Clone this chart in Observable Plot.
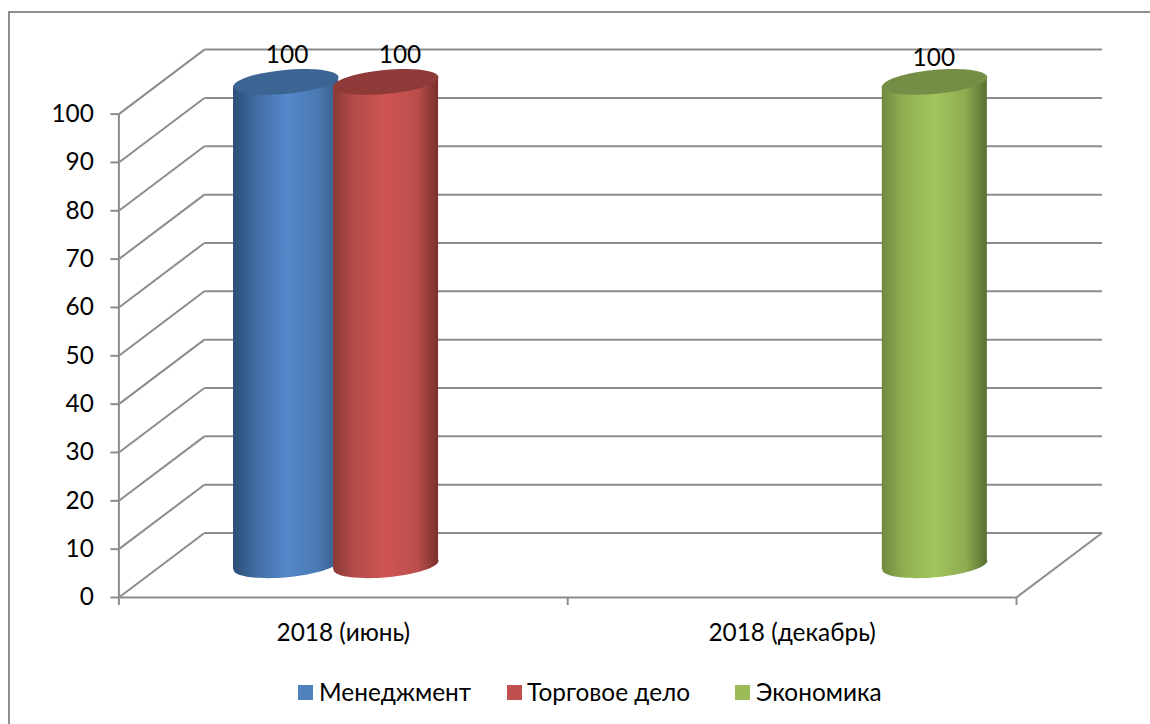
<!DOCTYPE html>
<html><head><meta charset="utf-8">
<script src="https://cdn.jsdelivr.net/npm/d3@7"></script>
<script src="https://cdn.jsdelivr.net/npm/@observablehq/plot@0.6"></script>
<style>
html,body{margin:0;padding:0;background:#fff;overflow:hidden;width:1150px;height:724px}
#frame{position:absolute;left:8px;top:11px;width:2000px;height:2000px;border:2px solid #8f8f8f;box-sizing:border-box}
#chart{position:absolute;left:0;top:0}
#legend{position:absolute;left:0;top:665px;width:1150px;height:55px;font-family:Lato,"Open Sans",sans-serif;font-size:24.4px;color:#000}
#legend span{position:absolute;top:12px;white-space:nowrap}
#legend i{position:absolute;top:20px;width:15px;height:15px}
svg text{font-family:Lato,"Open Sans",sans-serif}
</style></head><body>
<div id="frame"></div><div id="chart"></div><div id="legend"></div>
<script>
// Data
const categories = ["2018 (июнь)", "2018 (декабрь)"];
const series = ["Менеджмент", "Торговое дело", "Экономика"];
const management = [100, null];
const trade = [100, null];
const economics = [null, 100];
const valueTicks = [0,10,20,30,40,50,60,70,80,90,100];

// Styles
const seriesValues = [management, trade, economics];
const legendColors = ["#4f81bd","#c0504d","#9bbb59"];
const topColors = ["#3c6594","#8e3a38","#748e45"];
const gradients = [
  ["#2b4d78","#3f6b9e","#5588cb","#4a79b4","#356089"],
  ["#8a3a38","#b44c4a","#cf5452","#b94e4c","#7a2f2d"],
  ["#6f8a40","#8fae52","#a3c65e","#8dab50","#586f30"]
];
const grid = "#8c8c8c";
const textSize = 24.4;
// 3D projection, in data units
const depthX = 0.1905, depthY = 13.34, step = 0.2228, half = 0.117, tilt = 0.93;
const labelDx = [1, 14, -1], labelDy = [-27, -27, -24];

const rows = series.flatMap((s,si)=>seriesValues[si].map((v,ci)=>({series:s,si,ci,v,
  cx: ci + 0.5 + (si-1)*step + depthX/2, base: depthY/2, top: v + depthY/2})).filter(d=>d.v!=null));

// tilted ellipse symbol
const ellipse = {draw(ctx,size){
  const a = Math.sqrt(size/Math.PI), b = a*0.2277, th = -5.2*Math.PI/180, k = 0.5523;
  const P=(u,v)=>[u*Math.cos(th)-v*Math.sin(th), u*Math.sin(th)+v*Math.cos(th)];
  ctx.moveTo(...P(a,0));
  ctx.bezierCurveTo(...P(a,k*b),...P(k*a,b),...P(0,b));
  ctx.bezierCurveTo(...P(-k*a,b),...P(-a,k*b),...P(-a,0));
  ctx.bezierCurveTo(...P(-a,-k*b),...P(-k*a,-b),...P(0,-b));
  ctx.bezierCurveTo(...P(k*a,-b),...P(a,-k*b),...P(a,0));
  ctx.closePath();
}};

const defs = () => {
  const d = d3.create("svg:defs");
  gradients.forEach((g,i)=>{
    const lg = d.append("linearGradient").attr("id","cyl"+i).attr("x1",0).attr("x2",1).attr("y1",0).attr("y2",0);
    [0,0.2,0.5,0.8,1].forEach((o,j)=>lg.append("stop").attr("offset",o).attr("stop-color",g[j]));
  });
  return d.node();
};

const cylinders = rows.flatMap(r=>{
  const pts = [
    {x:r.cx-half, y1:r.base-tilt, y2:r.top-tilt},
    {x:r.cx+half, y1:r.base+tilt, y2:r.top+tilt}
  ];
  return [
    Plot.dot([r],{x:"cx",y:"base",r:52.7,symbol:ellipse,fill:`url(#cyl${r.si})`,stroke:"none"}),
    Plot.areaY(pts,{x:"x",y1:"y1",y2:"y2",fill:`url(#cyl${r.si})`}),
    Plot.dot([r],{x:"cx",y:"top",r:52.7,symbol:ellipse,fill:topColors[r.si],stroke:"none"}),
    Plot.text([r],{x:"cx",y:"top",text:d=>String(d.v),dx:labelDx[r.si],dy:labelDy[r.si],fontSize:textSize,fill:"#000"})
  ];
});

const plot = Plot.plot({
  width:1150, height:665,
  marginLeft:118.4, marginRight:134, marginTop:113.6, marginBottom:68,
  style:{background:"transparent",fontFamily:'Lato,"Open Sans",sans-serif'},
  x:{type:"linear",domain:[0,2],axis:null},
  y:{type:"linear",domain:[0,100],axis:null},
  marks:[
    defs,
    // back wall
    Plot.link(valueTicks,{x1:depthX,x2:2+depthX,y1:d=>d+depthY,y2:d=>d+depthY,stroke:grid,strokeWidth:2}),
    // left wall
    Plot.link(valueTicks,{x1:0,x2:depthX,y1:d=>d,y2:d=>d+depthY,stroke:grid,strokeWidth:2}),
    // floor right edge
    Plot.link([0],{x1:2,x2:2+depthX,y1:0,y2:depthY,stroke:grid,strokeWidth:2}),
    // axis lines
    Plot.ruleY([0],{x1:0,x2:2,stroke:grid,strokeWidth:2}),
    Plot.ruleX([0],{y1:0,y2:100,stroke:grid,strokeWidth:2}),
    Plot.axisY(valueTicks,{anchor:"left",label:null,tickSize:8,tickPadding:17,stroke:grid,strokeWidth:2,fill:"#000",fontSize:textSize,tickFormat:d=>String(d)}),
    Plot.axisX([0,1,2],{anchor:"bottom",label:null,tickSize:8,stroke:grid,strokeWidth:2,tickFormat:()=>""}),
    Plot.axisX([0.5,1.5],{anchor:"bottom",label:null,tickSize:0,tickPadding:26,fill:"#000",fontSize:textSize,tickFormat:d=>categories[d-0.5]}),
    ...cylinders
  ]
});
document.getElementById("chart").append(plot);

const legendX = [[298,319],[507,527],[735,756]];
const lg = document.getElementById("legend");
series.forEach((s,i)=>{
  const sw=document.createElement("i");sw.style.left=legendX[i][0]+"px";sw.style.background=legendColors[i];lg.append(sw);
  const t=document.createElement("span");t.style.left=legendX[i][1]+"px";t.textContent=s;lg.append(t);
});
</script></body></html>
